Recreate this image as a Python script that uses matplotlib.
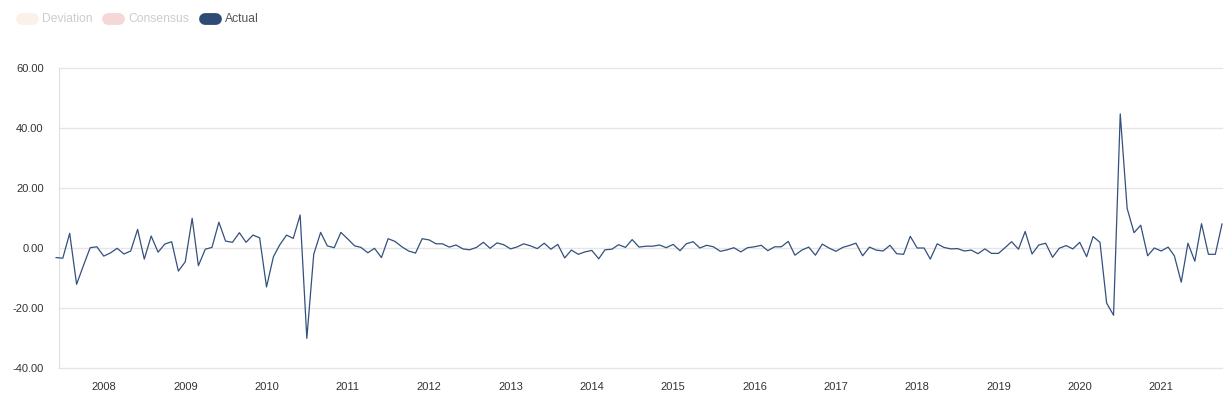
import numpy as np
import pandas as pd
import matplotlib
matplotlib.use('Agg')
import matplotlib.pyplot as plt
import matplotlib.dates as mdates
from matplotlib.lines import Line2D

plt.rcParams['font.family'] = ['Liberation Sans', 'DejaVu Sans']

# monthly release dates, first point Jun 2007
dates = pd.date_range('2007-06-01', periods=173, freq='MS')

actual = [
    -3.2, -3.4, 4.9, -12.1, -6.0, 0.1, 0.4, -2.7, -1.6, -0.1,
    -2.0, -1.0, 6.2, -3.7, 4.0, -1.4, 1.3, 2.1, -7.7, -4.6,
    9.9, -5.9, -0.4, 0.2, 8.6, 2.3, 1.9, 5.1, 1.9, 4.3,
    3.4, -13.0, -2.9, 1.0, 4.3, 3.2, 11.0, -30.1, -2.1, 5.2,
    0.7, 0.1, 5.2, 3.0, 0.7, 0.2, -1.6, -0.1, -3.2, 3.1,
    2.2, 0.4, -1.0, -1.7, 3.1, 2.7, 1.4, 1.4, 0.3, 1.0,
    -0.3, -0.6, 0.2, 1.9, -0.1, 1.7, 1.1, -0.3, 0.4, 1.4,
    0.7, -0.2, 1.6, -0.4, 1.2, -3.3, -0.7, -2.1, -1.3, -0.8,
    -3.6, -0.6, -0.4, 1.1, 0.2, 2.8, 0.3, 0.6, 0.6, 1.0,
    0.1, 1.2, -0.9, 1.4, 2.1, 0.0, 0.9, 0.4, -1.1, -0.6,
    0.1, -1.3, 0.1, 0.4, 0.9, -0.9, 0.4, 0.4, 2.2, -2.4,
    -0.7, 0.3, -2.4, 1.3, 0.0, -1.1, 0.2, 0.8, 1.6, -2.6,
    0.3, -0.7, -1.0, 0.9, -1.9, -2.1, 3.9, 0.0, 0.0, -3.7,
    1.4, 0.2, -0.3, -0.2, -1.0, -0.7, -1.9, -0.3, -1.8, -1.8,
    0.2, 2.1, -0.4, 5.5, -2.0, 1.0, 1.6, -3.1, -0.1, 0.8,
    -0.3, 1.9, -2.9, 3.8, 1.9, -18.4, -22.4, 44.7, 13.2, 5.1,
    7.6, -2.6, 0.0, -1.0, 0.3, -2.6, -11.4, 1.6, -4.4, 8.1,
    -2.1, -2.1, 8.0,
]

yticks = [-40, -20, 0, 20, 40, 60]
legend_names = ['Deviation', 'Consensus', 'Actual']
legend_colors = ['#fcf1e8', '#f6d7d7', '#2e4a75']
legend_text = ['#cccccc', '#cccccc', '#555555']

W, H = 1232, 400
fig = plt.figure(figsize=(W / 100, H / 100), dpi=100)
ax = fig.add_axes([59 / W, 32 / H, 1163 / W, 300 / H])

ax.plot(dates, actual, color='#34507d', lw=0.9, clip_on=False, zorder=3)

ax.set_ylim(-40, 60)
ax.set_yticks(yticks)
ax.yaxis.set_major_formatter(matplotlib.ticker.FormatStrFormatter('%.2f'))
ax.set_xlim(pd.Timestamp('2007-06-14'), dates[-1])
ax.xaxis.set_major_locator(mdates.YearLocator())
ax.xaxis.set_major_formatter(mdates.DateFormatter('%Y'))

ax.grid(axis='y', color='#e6e6e6', lw=1)
for gl in ax.get_ygridlines():
    gl.set_clip_on(False)
ax.set_axisbelow(True)
for s in ['top', 'right', 'bottom']:
    ax.spines[s].set_visible(False)
ax.spines['left'].set_color('#e0e0e0')
ax.tick_params(axis='y', length=0, pad=11, labelsize=8, labelcolor='#333333')
ax.tick_params(axis='x', length=0, pad=10, labelsize=8, labelcolor='#333333')

# legend at the top: rounded pills + labels
xs = [16, 102, 199]
for x, name, c, tc in zip(xs, legend_names, legend_colors, legend_text):
    y = 1 - 19 / H
    fig.add_artist(Line2D([(x + 6) / W, (x + 17) / W], [y, y],
                          transform=fig.transFigure, color=c, lw=8.5,
                          solid_capstyle='round'))
    fig.text((x + 26) / W, y, name, fontsize=8.7, color=tc,
             va='center', ha='left')

fig.savefig('out.png', dpi=100)
